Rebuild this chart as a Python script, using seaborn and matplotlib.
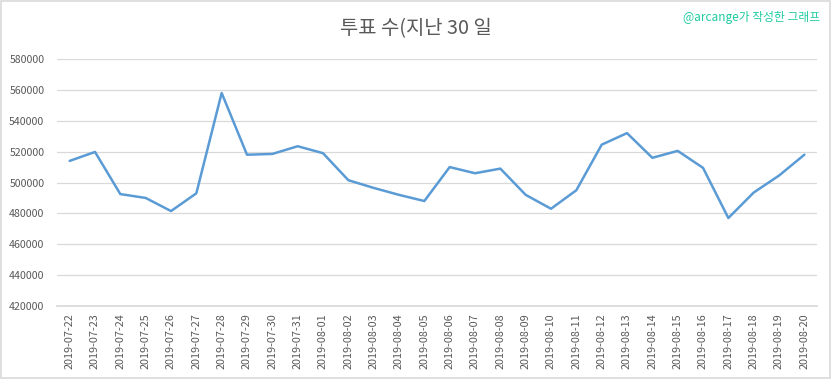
import pandas as pd
import seaborn as sns
import matplotlib
matplotlib.use("Agg")
import matplotlib.pyplot as plt
from matplotlib.patches import Rectangle

dates = [
    "2019-07-22", "2019-07-23", "2019-07-24", "2019-07-25", "2019-07-26",
    "2019-07-27", "2019-07-28", "2019-07-29", "2019-07-30", "2019-07-31",
    "2019-08-01", "2019-08-02", "2019-08-03", "2019-08-04", "2019-08-05",
    "2019-08-06", "2019-08-07", "2019-08-08", "2019-08-09", "2019-08-10",
    "2019-08-11", "2019-08-12", "2019-08-13", "2019-08-14", "2019-08-15",
    "2019-08-16", "2019-08-17", "2019-08-18", "2019-08-19", "2019-08-20",
]
votes = [
    514000, 519800, 492500, 490000, 481500,
    493000, 558000, 518000, 518500, 523500,
    519000, 501500, 496500, 492000, 488000,
    510000, 506000, 509000, 492000, 483000,
    495000, 524500, 532000, 516000, 520500,
    509500, 477000, 493500, 504500, 518000,
]
y_ticks = [420000, 440000, 460000, 480000, 500000, 520000, 540000, 560000, 580000]

sns.set_theme(style="white")
plt.rcParams["font.family"] = ["Noto Sans CJK KR", "DejaVu Sans"]

df = pd.DataFrame({"date": dates, "votes": votes})

fig = plt.figure(figsize=(8.32, 3.79), dpi=100)
ax = fig.add_axes([0.0685, 0.1926, 0.9135, 0.6517])
sns.lineplot(data=df, x="date", y="votes", sort=False, color="#5b9bd5",
             linewidth=1.8, ax=ax)

ax.set_xlim(-0.5, len(dates) - 0.5)
ax.set_ylim(420000, 580000)
ax.set_yticks(y_ticks)
ax.set_yticklabels([str(v) for v in y_ticks])
ax.yaxis.grid(True, color="#d9d9d9", linewidth=0.9)
ax.set_axisbelow(True)
for side in ["top", "right", "left"]:
    ax.spines[side].set_visible(False)
ax.spines["bottom"].set_color("#d9d9d9")
ax.tick_params(axis="x", labelrotation=90, labelsize=7.8, colors="#595959",
               length=0, pad=5)
ax.tick_params(axis="y", labelsize=7.6, colors="#595959", length=0, pad=9)
ax.set_xlabel("")
ax.set_ylabel("")

fig.text(0.5, 0.925, "투표 수(지난 30 일", ha="center", va="center",
         fontsize=14.3, color="#595959")
fig.text(0.986, 0.955, "@arcange가 작성한 그래프", ha="right", va="center",
         fontsize=8.5, color="#1fcaa0")

fig.patches.append(Rectangle((0.001, 0.002), 0.997, 0.995, transform=fig.transFigure,
                             fill=False, edgecolor="#d9d9d9", linewidth=1.2))

fig.savefig("out.png", dpi=100)
